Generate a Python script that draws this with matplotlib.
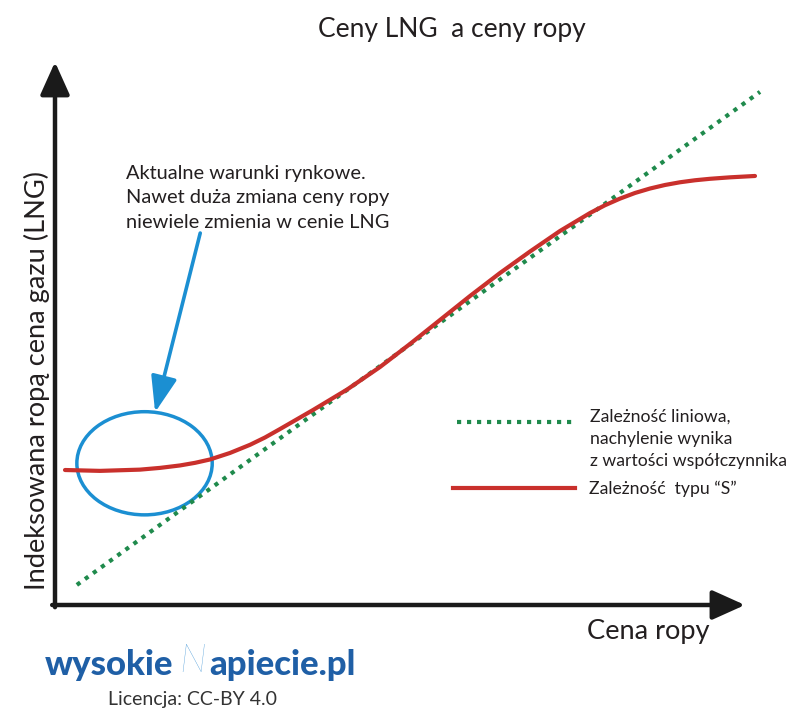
import matplotlib
matplotlib.use("Agg")
import matplotlib.pyplot as plt
from matplotlib.patches import Ellipse
from matplotlib.lines import Line2D

plt.rcParams['font.family'] = ['Lato', 'DejaVu Sans']

# ---- data ----
oil_linear = [0.31, 10.0]
gas_linear = [0.37, 9.45]

oil_s = [0.142, 0.638, 1.206, 1.489, 1.773, 1.986, 2.199, 2.482, 2.766, 2.979,
         3.191, 3.660, 4.142, 4.610, 5.035, 5.461, 5.887, 6.312, 6.738, 7.163,
         7.589, 7.801, 8.014, 8.227, 8.440, 8.652, 8.865, 9.078, 9.291, 9.574, 9.929]
gas_s = [2.486, 2.470, 2.493, 2.525, 2.570, 2.618, 2.680, 2.800, 2.950, 3.085,
         3.240, 3.591, 3.967, 4.383, 4.807, 5.249, 5.691, 6.114, 6.510, 6.888,
         7.219, 7.362, 7.484, 7.588, 7.670, 7.735, 7.785, 7.822, 7.849, 7.876, 7.901]

title = "Ceny LNG  a ceny ropy"
xlabel = "Cena ropy"
ylabel = "Indeksowana ropą cena gazu (LNG)"
note_lines = ["Aktualne warunki rynkowe.",
              "Nawet duża zmiana ceny ropy",
              "niewiele zmienia w cenie LNG"]
legend_linear = ["Zależność liniowa,", "nachylenie wynika", "z wartości współczynnika"]
legend_s = "Zależność  typu “S”"

# highlight region (current market conditions)
ell_center = (1.27, 2.61)
ell_w, ell_h = 1.92, 1.90
arrow_tail = (2.06, 6.85)
arrow_tip = (1.42, 3.55)

# ---- figure ----
W, H = 800, 716
fig = plt.figure(figsize=(W / 100, H / 100), dpi=100)
fig.patch.set_facecolor('white')

def fx(px):
    return px / W

def fy(py):
    return 1 - py / H

ax = fig.add_axes([fx(55), fy(605), 705 / W, 543 / H])
ax.set_xlim(0, 10)
ax.set_ylim(0, 10)
ax.axis('off')

TXT = '#231f20'
GREEN = '#1f8a4c'
RED = '#c9302c'
BLUE = '#1b8fd2'

# axes arrows
axis_props = dict(arrowstyle='-|>,head_length=1.0,head_width=0.45', lw=3.2,
                  color='#1a1a1a', shrinkA=0, shrinkB=0, mutation_scale=20)
ax.annotate('', xy=(0, 1.0), xytext=(0, -0.004), xycoords='axes fraction',
            arrowprops=axis_props, annotation_clip=False)
ax.annotate('', xy=(0.9787, 0), xytext=(-0.004, 0), xycoords='axes fraction',
            arrowprops=axis_props, annotation_clip=False)

# series
ax.plot(oil_linear, gas_linear, color=GREEN, lw=3.0, linestyle=(0, (1, 1.4)),
        dash_capstyle='butt', clip_on=False)
ax.plot(oil_s, gas_s, color=RED, lw=3.0, solid_capstyle='round',
        solid_joinstyle='round', clip_on=False)

# ellipse + arrow
ax.add_patch(Ellipse(ell_center, ell_w, ell_h, fill=False, edgecolor=BLUE, lw=2.5))
ax.annotate('', xy=arrow_tip, xytext=arrow_tail,
            arrowprops=dict(arrowstyle='-|>,head_length=1.1,head_width=0.4',
                            lw=2.6, color=BLUE, shrinkA=0, shrinkB=0,
                            mutation_scale=20))

# texts
fig.text(fx(452), fy(30), title, ha='center', va='center', fontsize=19, color=TXT)
fig.text(fx(37), fy(380), ylabel, ha='center', va='center', rotation=90,
         fontsize=19.6, color=TXT)
fig.text(fx(648), fy(632), xlabel, ha='center', va='center', fontsize=19.6, color=TXT)

for i, line in enumerate(note_lines):
    fig.text(fx(126), fy(173 + 25 * i), line, ha='left', va='center',
             fontsize=14.4, color=TXT)

# legend
fig.add_artist(Line2D([fx(457), fx(574)], [fy(422), fy(422)], color=GREEN, lw=3.0,
                      linestyle=(0, (1, 1.4)), dash_capstyle='butt'))
fig.add_artist(Line2D([fx(453), fx(575)], [fy(488), fy(488)], color=RED, lw=3.0))
for i, line in enumerate(legend_linear):
    fig.text(fx(590), fy(417 + 22 * i), line, ha='left', va='center',
             fontsize=12.7, color=TXT)
fig.text(fx(589), fy(489), legend_s, ha='left', va='center', fontsize=12.7, color=TXT)

# logo
LOGO = '#1f5fa6'
fig.text(fx(45), fy(665), "wysokie", ha='left', va='center', fontsize=25,
         fontweight='black', color=LOGO)
fig.text(fx(193), fy(661), "N", ha='center', va='center', fontsize=28,
         style='italic', fontweight='light', color='#4a9ad8')
fig.text(fx(209), fy(665), "apiecie.pl", ha='left', va='center', fontsize=25,
         fontweight='black', color=LOGO)
fig.text(fx(108), fy(700), "Licencja: CC-BY 4.0", ha='left', va='center',
         fontsize=14, color='#333333')

fig.savefig('out.png', dpi=100, facecolor='white')
